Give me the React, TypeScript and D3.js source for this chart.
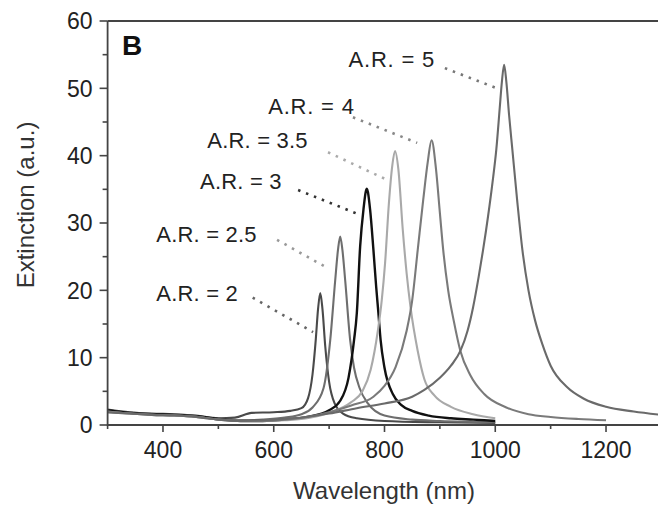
import * as d3 from "d3";

// axis ticks
const xMajorTicks = [400, 600, 800, 1000, 1200];
const xMinorTicks = [300, 500, 700, 900, 1100, 1300];
const yMajorTicks = [0, 10, 20, 30, 40, 50, 60];
const yMinorTicks = [5, 15, 25, 35, 45, 55];

// spectra: [wavelength nm, extinction a.u.]
const ar2: [number, number][] = [
  [300, 2.3], [340, 1.9], [380, 1.7], [420, 1.6], [460, 1.4], [500, 1.0], [530, 1.1],
  [560, 1.8], [600, 1.9], [630, 2.1], [650, 2.5], [662, 4.0], [670, 7.5], [676, 12.8],
  [680, 17.2], [684, 19.6], [688, 17.2], [693, 11.7], [700, 6.4], [710, 3.2], [725, 1.7],
  [750, 1.0], [800, 0.6], [900, 0.4], [1000, 0.3],
];
const ar25: [number, number][] = [
  [300, 2.1], [340, 1.8], [380, 1.6], [420, 1.5], [460, 1.3], [500, 0.9], [540, 0.7],
  [580, 0.8], [620, 1.1], [650, 1.6], [670, 2.6], [690, 5.5], [702, 12.6], [711, 21.5],
  [716, 26], [720, 28], [724, 26], [729, 21.5], [738, 12.6], [745, 8.5], [755, 5.5],
  [770, 3.2], [800, 1.4], [850, 0.8], [900, 0.6], [1000, 0.4],
];
const ar3: [number, number][] = [
  [300, 2.2], [340, 1.8], [380, 1.6], [420, 1.5], [460, 1.3], [500, 0.9], [540, 0.6],
  [580, 0.6], [620, 0.8], [660, 1.2], [700, 2.2], [720, 3.6], [735, 7.0], [745, 12.6],
  [750, 16.6], [756, 26.5], [762, 32], [768, 35.1], [774, 32], [780, 26], [785, 20.5],
  [789, 16.6], [793, 12.6], [800, 8.5], [815, 4.6], [830, 3.0], [850, 2.1], [880, 1.4],
  [920, 1.0], [960, 0.8], [1000, 0.6],
];
const ar35: [number, number][] = [
  [300, 2.0], [340, 1.7], [380, 1.5], [420, 1.4], [460, 1.2], [500, 0.8], [540, 0.6],
  [580, 0.6], [620, 0.7], [660, 1.0], [700, 1.8], [740, 3.4], [760, 5.0], [775, 8.2],
  [788, 14], [795, 18.5], [801, 24], [808, 33], [814, 38.5], [819, 40.7], [825, 38],
  [833, 29], [840, 22.5], [847, 17.5], [860, 11], [872, 6.8], [890, 4.4], [920, 2.7],
  [960, 1.6], [1000, 1.0],
];
const ar4: [number, number][] = [
  [300, 1.9], [340, 1.7], [380, 1.5], [420, 1.4], [460, 1.2], [500, 0.8], [540, 0.6],
  [580, 0.6], [620, 0.8], [660, 1.2], [700, 1.9], [740, 2.9], [780, 4.2], [800, 5.8],
  [820, 8.6], [840, 14], [850, 18.5], [860, 26], [870, 33.5], [878, 39], [885, 42.3],
  [893, 38], [900, 31.5], [906, 26], [915, 20], [925, 15.5], [937, 11], [955, 7.4],
  [980, 4.6], [1020, 2.6], [1060, 1.6], [1100, 1.2], [1150, 0.9], [1200, 0.7],
];
const ar5: [number, number][] = [
  [300, 1.9], [340, 1.7], [380, 1.5], [420, 1.4], [460, 1.2], [500, 0.8], [540, 0.6],
  [580, 0.7], [620, 0.9], [660, 1.2], [700, 1.7], [750, 2.5], [800, 3.2], [850, 4.2],
  [872, 5.2], [900, 7.0], [920, 8.8], [937, 11], [950, 14], [960, 17.5], [970, 22],
  [978, 26], [987, 31], [995, 36], [1002, 41], [1008, 47], [1012, 51], [1016, 53.5],
  [1020, 51], [1025, 46], [1031, 40.8], [1040, 33], [1049, 26], [1060, 20], [1072, 15.5],
  [1085, 12], [1100, 8.8], [1130, 5.6], [1160, 3.9], [1200, 2.7], [1250, 2.0], [1300, 1.5],
];

const seriesLabels = ["A.R. = 2", "A.R. = 2.5", "A.R. = 3", "A.R. = 3.5", "A.R. = 4", "A.R. = 5"];
const seriesData = [ar2, ar25, ar3, ar35, ar4, ar5];
const seriesColors = ["#4a4a4a", "#6e6e6e", "#111111", "#a9a9a9", "#7a7a7a", "#6a6a6a"];
const leaderColors = ["#666", "#999", "#333", "#aaa", "#888", "#777"];

// label anchor and leader line ends, in data units
const labelAnchors: [number, number][] = [
  [388, 18.4], [388, 27.2], [467, 35.1], [480, 41.1], [590, 46.2], [735, 53.2],
];
const leaderFrom: [number, number][] = [
  [562, 18.9], [606, 27.5], [644, 34.9], [698, 40.5], [743, 45.7], [909, 53.0],
];
const leaderTo: [number, number][] = [
  [671, 13.8], [693, 23.5], [756, 31.2], [805, 36.4], [859, 41.9], [1000, 50.1],
];

const font = "'Liberation Sans', Arial, Helvetica, sans-serif";

export default function App() {
  const width = 658;
  const height = 508;
  const marginLeft = 107.6;
  const marginTop = 21;
  const plotBottom = 425;
  const plotRight = 661.4;

  const x = d3.scaleLinear().domain([300, 1300]).range([marginLeft, plotRight]);
  const y = d3.scaleLinear().domain([0, 60]).range([plotBottom, marginTop]);

  const line = d3
    .line<[number, number]>()
    .x((d) => x(d[0]))
    .y((d) => y(d[1]))
    .curve(d3.curveMonotoneX);

  const axisColor = "#444";

  return (
    <div style={{ position: "absolute", left: 0, top: 0 }}>
      <svg width={width} height={height} style={{ display: "block", background: "#fff" }}>
        {/* curves */}
        {seriesData.map((d, i) => (
          <path
            key={seriesLabels[i]}
            d={line(d) ?? ""}
            fill="none"
            stroke={seriesColors[i]}
            strokeWidth={i === 2 ? 2.4 : 2.1}
            strokeLinejoin="round"
          />
        ))}

        {/* frame */}
        <line x1={marginLeft} x2={width} y1={marginTop} y2={marginTop} stroke={axisColor} strokeWidth={1.8} />
        <line x1={marginLeft} x2={marginLeft} y1={marginTop} y2={plotBottom + 1} stroke={axisColor} strokeWidth={1.8} />
        <line x1={marginLeft} x2={width} y1={plotBottom} y2={plotBottom} stroke={axisColor} strokeWidth={1.8} />

        {/* y ticks */}
        {yMajorTicks.map((t) => (
          <g key={"ym" + t} transform={`translate(${marginLeft}, ${y(t)})`}>
            <line x1={-8} x2={0} stroke={axisColor} strokeWidth={1.6} />
            <text x={-15} dy="0.36em" textAnchor="end" fontSize={23} fontFamily={font} fill="#222">
              {t}
            </text>
          </g>
        ))}
        {yMinorTicks.map((t) => (
          <line key={"yn" + t} x1={marginLeft - 5} x2={marginLeft} y1={y(t)} y2={y(t)} stroke={axisColor} strokeWidth={1.6} />
        ))}

        {/* x ticks */}
        {xMajorTicks.map((t) => (
          <g key={"xm" + t} transform={`translate(${x(t)}, ${plotBottom})`}>
            <line y1={0} y2={7} stroke={axisColor} strokeWidth={1.6} />
            <text y={33} textAnchor="middle" fontSize={23} fontFamily={font} fill="#222">
              {t}
            </text>
          </g>
        ))}
        {xMinorTicks.map((t) => (
          <line key={"xn" + t} x1={x(t)} x2={x(t)} y1={plotBottom} y2={plotBottom + 4} stroke={axisColor} strokeWidth={1.6} />
        ))}

        {/* axis titles */}
        <text x={384} y={499} textAnchor="middle" fontSize={24} fontFamily={font} fill="#333">
          Wavelength (nm)
        </text>
        <text
          transform={`translate(34, ${(y(0) + y(60)) / 2 - 18}) rotate(-90)`}
          textAnchor="middle"
          fontSize={24}
          fontFamily={font}
          fill="#333"
        >
          Extinction (a.u.)
        </text>

        {/* panel letter */}
        <text x={122} y={55} fontSize={28} fontWeight="bold" fontFamily={font} fill="#111">
          B
        </text>

        {/* annotations */}
        {seriesLabels.map((label, i) => (
          <g key={"lab" + label}>
            <text
              x={x(labelAnchors[i][0])}
              y={y(labelAnchors[i][1])}
              fontSize={22}
              fontFamily={font}
              fill="#222"
              letterSpacing={i === 5 || i === 4 ? 0.8 : 0.2}
            >
              {label}
            </text>
            <line
              x1={x(leaderFrom[i][0])}
              y1={y(leaderFrom[i][1])}
              x2={x(leaderTo[i][0])}
              y2={y(leaderTo[i][1])}
              stroke={leaderColors[i]}
              strokeWidth={2.6}
              strokeDasharray="2.5 6"
            />
          </g>
        ))}
      </svg>
    </div>
  );
}
